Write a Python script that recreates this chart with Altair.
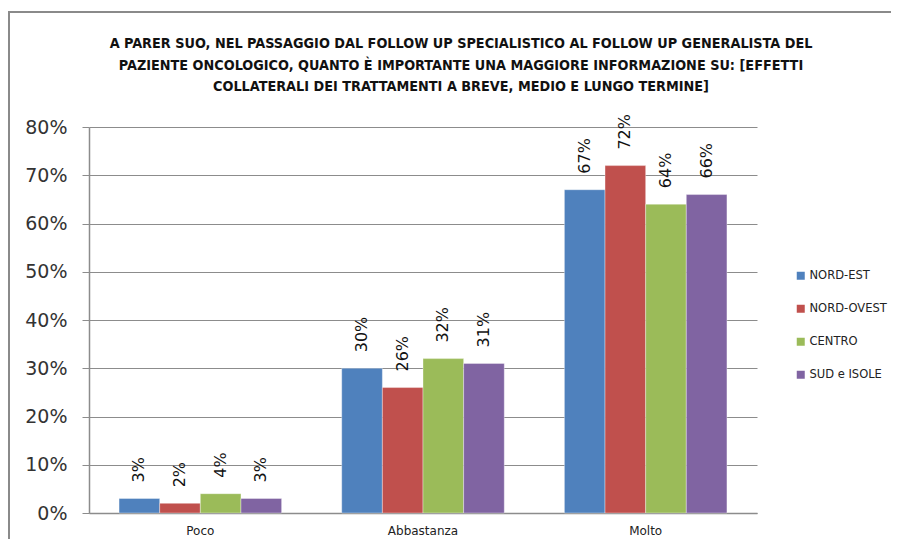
import altair as alt
import pandas as pd

categories = ["Poco", "Abbastanza", "Molto"]
regions = ["NORD-EST", "NORD-OVEST", "CENTRO", "SUD e ISOLE"]
nord_est = [0.03, 0.30, 0.67]
nord_ovest = [0.02, 0.26, 0.72]
centro = [0.04, 0.32, 0.64]
sud_isole = [0.03, 0.31, 0.66]
colors = ["#4F81BD", "#C0504D", "#9BBB59", "#8064A2"]
title_lines = [
    "A PARER SUO, NEL PASSAGGIO DAL FOLLOW UP SPECIALISTICO AL FOLLOW UP GENERALISTA DEL",
    "PAZIENTE ONCOLOGICO, QUANTO È IMPORTANTE UNA MAGGIORE INFORMAZIONE SU: [EFFETTI",
    "COLLATERALI DEI TRATTAMENTI A BREVE, MEDIO E LUNGO TERMINE]",
]

rows = []
for reg, vals in zip(regions, [nord_est, nord_ovest, centro, sud_isole]):
    for cat, v in zip(categories, vals):
        rows.append({"cat": cat, "region": reg, "value": v})
df = pd.DataFrame(rows)

FONT = "DejaVu Sans"
TFONT = "Liberation Sans Narrow, DejaVu Sans Condensed, Roboto, sans-serif"

x_enc = alt.X("cat:N", sort=categories, title=None,
              scale=alt.Scale(paddingInner=0.27, paddingOuter=0.135),
              axis=alt.Axis(labelAngle=0, ticks=False, labelPadding=12,
                            labelFont=FONT, labelFontSize=12, labelColor="#222",
                            domainColor="#8c8c8c", domainWidth=1.5))
xo_enc = alt.XOffset("region:N", sort=regions, scale=alt.Scale(paddingInner=0, paddingOuter=0))
y_enc = alt.Y("value:Q", title=None,
              scale=alt.Scale(domain=[0, 0.8], nice=False),
              axis=alt.Axis(format=".0%", values=[0, 0.1, 0.2, 0.3, 0.4, 0.5, 0.6, 0.7, 0.8],
                            labelFont=FONT, labelFontSize=19, labelColor="#333",
                            labelPadding=15, tickSize=7, tickColor="#8c8c8c",
                            domainColor="#8c8c8c", domainWidth=1.5,
                            gridColor="#8c8c8c", gridWidth=1))

bars = alt.Chart(df).mark_bar(stroke="white", strokeWidth=0.6, strokeOpacity=0.6).encode(
    x=x_enc, xOffset=xo_enc, y=y_enc,
    color=alt.Color("region:N", sort=regions,
                    scale=alt.Scale(domain=regions, range=colors),
                    legend=alt.Legend(title=None, orient="none", legendX=706, legendY=143,
                                      symbolType="square", symbolSize=64, symbolStrokeWidth=0,
                                      labelFont=FONT, labelFontSize=11.5, labelColor="#222",
                                      rowPadding=20, labelOffset=3)),
)

labels = alt.Chart(df).mark_text(angle=270, align="left", baseline="middle", dx=16,
                                 font=FONT, fontSize=16, color="#111").encode(
    x=alt.X("cat:N", sort=categories),
    xOffset=alt.XOffset("region:N", sort=regions),
    y="value:Q",
    text=alt.Text("value:Q", format=".0%"),
)

one = alt.Data(values=[{"a": 1}])
border_top = alt.Chart(one).mark_rule(stroke="#8a8a8a", strokeWidth=2).encode(
    x=alt.value(-80), x2=alt.value(2000), y=alt.value(-115))
border_left = alt.Chart(one).mark_rule(stroke="#8a8a8a", strokeWidth=2).encode(
    x=alt.value(-80), y=alt.value(-116), y2=alt.value(2000))

title_layers = []
for i, line in enumerate(title_lines):
    title_layers.append(
        alt.Chart(one).mark_text(font=TFONT, fontSize=14.3, fontWeight="bold", color="#111",
                                 align="center", baseline="middle").encode(
            x=alt.value(372), y=alt.value(-83 + 21.5 * i), text=alt.value(line))
    )

chart = alt.layer(border_top, border_left, bars, labels, *title_layers).properties(
    width=668, height=386,
    padding={"left": 81, "top": 119, "right": 134, "bottom": 26},
    autosize=alt.AutoSizeParams(type="none"),
).configure_view(stroke=None).configure_axisX(grid=False)

chart.save("out.html", embed_options={"renderer": "svg", "actions": False})
